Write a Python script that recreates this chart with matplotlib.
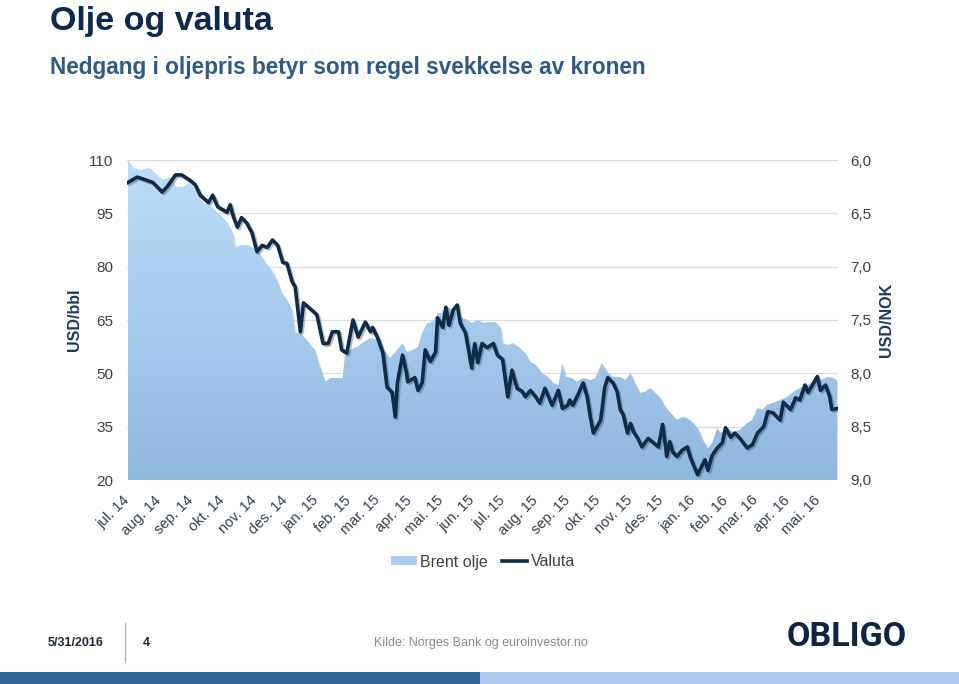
import numpy as np
import pandas as pd
import matplotlib
matplotlib.use("Agg")
import matplotlib.pyplot as plt
import matplotlib.dates as mdates
import matplotlib.patheffects as pe
from matplotlib.patches import Polygon, Patch, Rectangle
from matplotlib.lines import Line2D
from matplotlib import transforms

plt.rcParams['font.family'] = ['Liberation Sans', 'DejaVu Sans']

# ---------------- data ----------------
brent_dates = [
    '2014-07-02', '2014-07-07', '2014-07-14', '2014-07-23', '2014-07-30', '2014-08-05', '2014-08-12', '2014-08-17', '2014-08-24', '2014-08-31',
    '2014-09-07', '2014-09-13', '2014-09-19', '2014-09-29', '2014-10-06', '2014-10-12', '2014-10-14', '2014-10-20', '2014-10-26', '2014-11-04',
    '2014-11-14', '2014-11-20', '2014-11-24', '2014-11-28', '2014-12-03', '2014-12-08', '2014-12-11', '2014-12-16', '2014-12-22', '2014-12-30',
    '2015-01-04', '2015-01-09', '2015-01-14', '2015-01-21', '2015-01-26', '2015-01-28', '2015-02-02', '2015-02-09', '2015-02-15', '2015-02-22',
    '2015-03-03', '2015-03-08', '2015-03-13', '2015-03-18', '2015-03-25', '2015-03-29', '2015-04-04', '2015-04-09', '2015-04-13', '2015-04-18',
    '2015-04-23', '2015-04-28', '2015-05-02', '2015-05-07', '2015-05-13', '2015-05-20', '2015-05-27', '2015-05-31', '2015-06-06', '2015-06-11',
    '2015-06-16', '2015-06-23', '2015-06-28', '2015-06-30', '2015-07-05', '2015-07-10', '2015-07-17', '2015-07-22', '2015-07-27', '2015-08-01',
    '2015-08-07', '2015-08-13', '2015-08-18', '2015-08-23', '2015-08-27', '2015-08-30', '2015-09-05', '2015-09-10', '2015-09-16', '2015-09-23',
    '2015-09-28', '2015-10-04', '2015-10-10', '2015-10-15', '2015-10-22', '2015-10-27', '2015-11-01', '2015-11-04', '2015-11-10', '2015-11-15',
    '2015-11-20', '2015-11-25', '2015-11-30', '2015-12-05', '2015-12-09', '2015-12-16', '2015-12-21', '2015-12-26', '2016-01-01', '2016-01-06',
    '2016-01-10', '2016-01-15', '2016-01-19', '2016-01-24', '2016-01-27', '2016-02-03', '2016-02-08', '2016-02-15', '2016-02-22', '2016-02-27',
    '2016-03-03', '2016-03-08', '2016-03-12', '2016-03-18', '2016-03-25', '2016-04-01', '2016-04-07', '2016-04-13', '2016-04-20', '2016-04-26',
    '2016-05-03', '2016-05-10', '2016-05-15', '2016-05-19',
]
brent = [
    110.0, 107.8, 107.2, 107.8, 105.8, 104.4, 105.2, 102.4, 102.4, 103.8,
    100.7, 97.9, 97.3, 94.5, 92.6, 88.9, 85.5, 86.1, 86.1, 84.7,
    80.5, 78.2, 75.7, 72.6, 70.6, 67.8, 61.3, 61.3, 59.4, 56.6,
    51.8, 47.6, 48.7, 48.7, 48.7, 54.6, 56.6, 57.4, 58.8, 59.9,
    59.4, 56.0, 54.3, 56.0, 58.5, 56.0, 56.6, 57.4, 61.3, 64.2,
    64.4, 67.0, 67.0, 68.7, 67.8, 65.8, 65.0, 64.2, 65.0, 64.2,
    64.4, 64.4, 63.0, 58.5, 58.0, 58.5, 57.1, 55.7, 53.2, 52.4,
    50.1, 49.0, 47.3, 46.7, 52.9, 49.0, 48.7, 47.6, 48.7, 48.1,
    48.7, 52.9, 50.1, 49.0, 49.0, 48.1, 50.1, 48.1, 44.5, 44.8,
    45.9, 44.5, 43.1, 40.5, 39.1, 36.9, 37.7, 37.4, 36.0, 34.1,
    31.3, 29.0, 30.4, 34.6, 33.2, 34.6, 33.5, 34.1, 36.0, 36.9,
    40.3, 39.7, 41.1, 41.7, 42.5, 43.4, 44.8, 45.9, 46.7, 47.6,
    48.1, 49.0, 48.7, 48.1,
]

valuta_dates = [
    '2014-07-02', '2014-07-11', '2014-07-26', '2014-08-04', '2014-08-09', '2014-08-17', '2014-08-23', '2014-08-31', '2014-09-05', '2014-09-10',
    '2014-09-18', '2014-09-22', '2014-09-27', '2014-10-06', '2014-10-09', '2014-10-12', '2014-10-16', '2014-10-20', '2014-10-25', '2014-10-30',
    '2014-11-04', '2014-11-09', '2014-11-14', '2014-11-19', '2014-11-24', '2014-11-29', '2014-12-03', '2014-12-08', '2014-12-11', '2014-12-16',
    '2014-12-19', '2014-12-25', '2015-01-01', '2015-01-07', '2015-01-12', '2015-01-16', '2015-01-22', '2015-01-25', '2015-01-30', '2015-02-05',
    '2015-02-10', '2015-02-17', '2015-02-22', '2015-02-24', '2015-03-01', '2015-03-06', '2015-03-10', '2015-03-15', '2015-03-18', '2015-03-20',
    '2015-03-25', '2015-03-29', '2015-03-30', '2015-04-06', '2015-04-09', '2015-04-13', '2015-04-16', '2015-04-21', '2015-04-26', '2015-04-28',
    '2015-05-03', '2015-05-06', '2015-05-09', '2015-05-13', '2015-05-17', '2015-05-20', '2015-05-25', '2015-05-28', '2015-05-31', '2015-06-03',
    '2015-06-06', '2015-06-10', '2015-06-15', '2015-06-21', '2015-06-25', '2015-06-30', '2015-07-05', '2015-07-09', '2015-07-14', '2015-07-19',
    '2015-07-22', '2015-07-27', '2015-08-01', '2015-08-05', '2015-08-10', '2015-08-17', '2015-08-23', '2015-08-27', '2015-09-01', '2015-09-03',
    '2015-09-06', '2015-09-11', '2015-09-16', '2015-09-20', '2015-09-23', '2015-09-26', '2015-10-03', '2015-10-07', '2015-10-10', '2015-10-15',
    '2015-10-19', '2015-10-22', '2015-10-25', '2015-10-29', '2015-11-01', '2015-11-04', '2015-11-08', '2015-11-12', '2015-11-18', '2015-11-23',
    '2015-11-28', '2015-12-02', '2015-12-05', '2015-12-06', '2015-12-09', '2015-12-12', '2015-12-16', '2015-12-21', '2015-12-26', '2015-12-29',
    '2016-01-01', '2016-01-05', '2016-01-07', '2016-01-12', '2016-01-15', '2016-01-19', '2016-01-24', '2016-01-29', '2016-02-01', '2016-02-06',
    '2016-02-10', '2016-02-15', '2016-02-22', '2016-02-27', '2016-03-03', '2016-03-09', '2016-03-13', '2016-03-18', '2016-03-25', '2016-03-28',
    '2016-04-04', '2016-04-09', '2016-04-13', '2016-04-18', '2016-04-21', '2016-04-30', '2016-05-03', '2016-05-08', '2016-05-12', '2016-05-14',
    '2016-05-19',
]
valuta = [
    6.21, 6.16, 6.21, 6.30, 6.25, 6.14, 6.14, 6.19, 6.23, 6.33,
    6.40, 6.33, 6.44, 6.49, 6.42, 6.53, 6.63, 6.54, 6.59, 6.68,
    6.86, 6.80, 6.82, 6.75, 6.80, 6.96, 6.97, 7.14, 7.19, 7.61,
    7.34, 7.39, 7.45, 7.72, 7.72, 7.61, 7.61, 7.78, 7.81, 7.50,
    7.66, 7.52, 7.61, 7.57, 7.67, 7.81, 8.13, 8.18, 8.41, 8.09,
    7.83, 8.00, 8.08, 8.04, 8.16, 8.09, 7.78, 7.89, 7.80, 7.48,
    7.57, 7.38, 7.55, 7.41, 7.36, 7.53, 7.62, 7.78, 7.95, 7.72,
    7.90, 7.72, 7.76, 7.72, 7.83, 7.87, 8.22, 7.97, 8.14, 8.17,
    8.22, 8.16, 8.22, 8.28, 8.14, 8.30, 8.16, 8.33, 8.30, 8.25,
    8.30, 8.20, 8.09, 8.22, 8.41, 8.56, 8.44, 8.13, 8.04, 8.09,
    8.17, 8.34, 8.39, 8.56, 8.47, 8.55, 8.61, 8.69, 8.61, 8.65,
    8.69, 8.48, 8.69, 8.78, 8.64, 8.74, 8.78, 8.72, 8.69, 8.79,
    8.86, 8.95, 8.91, 8.81, 8.91, 8.77, 8.70, 8.65, 8.51, 8.60,
    8.56, 8.61, 8.70, 8.67, 8.56, 8.50, 8.36, 8.37, 8.44, 8.27,
    8.34, 8.23, 8.25, 8.11, 8.18, 8.03, 8.16, 8.11, 8.22, 8.34,
    8.33,
]

month_labels = ['jul. 14', 'aug. 14', 'sep. 14', 'okt. 14', 'nov. 14', 'des. 14',
                'jan. 15', 'feb. 15', 'mar. 15', 'apr. 15', 'mai. 15', 'jun. 15',
                'jul. 15', 'aug. 15', 'sep. 15', 'okt. 15', 'nov. 15', 'des. 15',
                'jan. 16', 'feb. 16', 'mar. 16', 'apr. 16', 'mai. 16']
left_ticks = [20, 35, 50, 65, 80, 95, 110]
right_ticks = [6.0, 6.5, 7.0, 7.5, 8.0, 8.5, 9.0]

# ---------------- figure ----------------
W, H = 959, 684
fig = plt.figure(figsize=(W / 100, H / 100), dpi=100)
fig.patch.set_facecolor('white')

def fx(px):
    return px / W

def fy(py):
    return 1 - py / H

ax = fig.add_axes([fx(127), fy(480), fx(838) - fx(127), fy(160) - fy(480)])

bx = mdates.date2num(pd.to_datetime(brent_dates))
vx = mdates.date2num(pd.to_datetime(valuta_dates))
x0 = mdates.date2num(pd.Timestamp('2014-07-01'))
x1 = mdates.date2num(pd.Timestamp('2016-05-20'))

# gridlines
for t in left_ticks[1:]:
    ax.axhline(t, color='#dcdcdc', lw=0.9, zorder=0)

# area (gradient fill clipped to brent polygon)
verts = [(bx[0], 20)] + list(zip(bx, brent)) + [(bx[-1], 20)]
shadow_tr = transforms.offset_copy(ax.transData, fig=fig, x=1.5, y=-1.5, units='dots')
shadow = Polygon(verts, closed=True, facecolor='#9aa6b2', edgecolor='none', alpha=0.35,
                 transform=shadow_tr, zorder=1)
ax.add_patch(shadow)
clip = Polygon(verts, closed=True, facecolor='none', edgecolor='none', transform=ax.transData)
ax.add_patch(clip)
top_c = np.array([0xbc, 0xde, 0xf9]) / 255
bot_c = np.array([0x8f, 0xb8, 0xdf]) / 255
tgrid = np.linspace(0, 1, 256)[:, None]
grad = (bot_c[None, :] * (1 - tgrid) + top_c[None, :] * tgrid)[:, None, :]
im = ax.imshow(grad, extent=[x0, x1, 20, 110], aspect='auto', origin='lower',
               interpolation='bilinear', zorder=2)
im.set_clip_path(clip)

ax.set_xlim(x0, x1)
ax.set_ylim(20, 110)
ax.set_yticks(left_ticks)
ax.set_yticklabels([str(t) for t in left_ticks])
ticks = mdates.date2num(pd.date_range('2014-07-01', periods=len(month_labels), freq='MS'))
ax.set_xticks(ticks)
ax.set_xticklabels(month_labels, rotation=45, ha='right', va='center', rotation_mode='anchor')
ax.tick_params(axis='x', length=0, pad=13, labelsize=10.5, labelcolor='#34404e')
ax.tick_params(axis='y', length=0, pad=10, labelsize=11, labelcolor='#404040')
for s in ax.spines.values():
    s.set_visible(False)
ax.set_facecolor('none')

ax2 = ax.twinx()
ax2.set_ylim(9.0, 6.0)
ax2.set_yticks(right_ticks)
ax2.set_yticklabels([f"{t:.1f}".replace('.', ',') for t in right_ticks])
ax2.tick_params(axis='y', length=0, pad=9, labelsize=11, labelcolor='#404040')
for s in ax2.spines.values():
    s.set_visible(False)
ax2.plot(vx, valuta, color='#0e2c47', lw=2.6, solid_joinstyle='round', zorder=5,
         path_effects=[pe.SimpleLineShadow(offset=(1.2, -1.2), shadow_color='#33475b', alpha=0.35),
                       pe.Normal()])
ax2.set_xlim(x0, x1)

# axis titles
fig.text(fx(75), fy(320), 'USD/bbl', rotation=90, ha='center', va='center',
         fontsize=11.5, fontweight='bold', color='#1d3b5e')
fig.text(fx(887), fy(320), 'USD/NOK', rotation=90, ha='center', va='center',
         fontsize=11.5, fontweight='bold', color='#1d3b5e')

# titles
fig.text(fx(50), fy(30), 'Olje og valuta', fontsize=24.5, fontweight='bold',
         color='#0c2a50', va='baseline', ha='left')
fig.text(fx(50), fy(74), 'Nedgang i oljepris betyr som regel svekkelse av kronen',
         fontsize=16.3, fontweight='bold', color='#2f5b87', va='baseline', ha='left')

# legend
handles = [Patch(facecolor='#a9cdf0', edgecolor='none', label='Brent olje'),
           Line2D([0], [0], color='#0e2c47', lw=2.6, label='Valuta')]
fig.legend(handles=handles, loc='center', bbox_to_anchor=(fx(483), fy(562)), ncol=2,
           frameon=False, fontsize=11.5, handlelength=1.6, handleheight=0.5,
           handletextpad=0.2, columnspacing=0.9, labelcolor='#404040')

# footer
fig.text(fx(48), fy(643), '5/31/2016', fontsize=9, fontweight='bold', color='#1e2a36',
         ha='left', va='center')
fig.add_artist(Line2D([fx(125), fx(125)], [fy(623), fy(662)], color='#a9b8c8', lw=1,
                      transform=fig.transFigure))
fig.text(fx(143), fy(643), '4', fontsize=9, fontweight='bold', color='#1e2a36',
         ha='left', va='center')
fig.text(fx(374), fy(643), 'Kilde: Norges Bank og euroinvestor.no', fontsize=9,
         color='#8a8a8a', ha='left', va='center')
fig.text(fx(787), fy(637), 'OBLIGO', fontsize=24.5, fontweight='bold', color='#0d2443',
         ha='left', va='center', family=['Roboto', 'Liberation Sans'])
fig.add_artist(Rectangle((0, 0), fx(480), 12 / H, transform=fig.transFigure,
                         facecolor='#2e6394', edgecolor='none'))
fig.add_artist(Rectangle((fx(480), 0), 1 - fx(480), 12 / H, transform=fig.transFigure,
                         facecolor='#aec8ec', edgecolor='none'))

fig.savefig('out.png', dpi=100)
